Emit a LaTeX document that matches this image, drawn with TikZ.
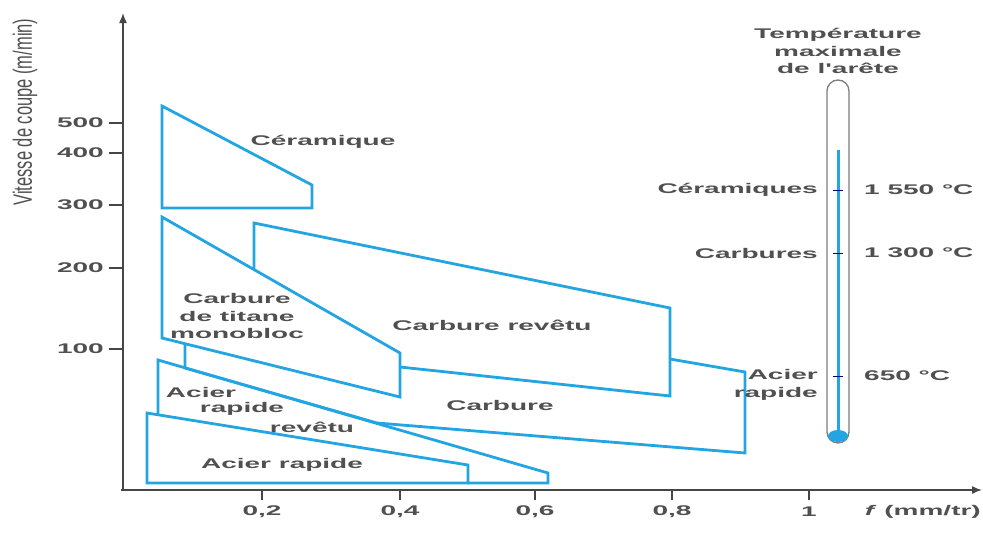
\documentclass[tikz,border=0pt]{standalone}
\usepackage{fontspec}
\usepackage{graphicx}
\usetikzlibrary{arrows.meta}
\setmainfont{Liberation Sans}
\newfontfamily\chartfont{Liberation Sans}[FakeStretch=2.0]
\definecolor{zoneblue}{RGB}{35,165,225}
\definecolor{axisgray}{RGB}{70,70,70}
\definecolor{textgray}{RGB}{80,80,80}
\definecolor{tubegray}{RGB}{125,125,125}
\tikzstyle{zone} = [draw, line width=2.8pt, color=zoneblue]
\tikzstyle{axis} = [draw, line width=1.5pt, color=axisgray]
\tikzstyle{arrow} = [draw, line width=1.5pt, color=axisgray, -{Latex[length=10pt,width=8pt]}]
\tikzstyle{zonelabel} = [text=textgray, align=center, inner sep=0pt, font=\chartfont\bfseries\fontsize{14}{17.5}\selectfont]
\tikzstyle{tube} = [draw, line width=1.3pt, color=tubegray, rounded corners=11pt]
\tikzstyle{thermotick} = [draw, line width=1pt, color=blue!45!black]
\newcommand{\zonelabel}[2]{node (z#1) [zonelabel] {#2}}

\begin{document}
\begin{tikzpicture}[x=1pt,y=-1pt]
\useasboundingbox (0,0) rectangle (983,536);
% axes
\path [arrow] (123,491) -- (123,13);
\path [arrow] (121,490) -- (982,490);
\foreach \y/\v in {123/500,153/400,205/300,268/200,349/100}{
  \path [axis] (109,\y) -- (123,\y);
  \path (104,\y) node (yt\v) [zonelabel, anchor=east] {\v};
}
\foreach \x/\v in {262/{0,2},400/{0,4},535/{0,6},672/{0,8},809/1}{
  \path [axis] (\x,490) -- (\x,500);
  \path (\x,512) node (xt\x) [zonelabel] {\v};
}
\path (25,112) node (ylabel) [rotate=90, text=textgray, font=\fontsize{16.5}{18}\selectfont] {\scalebox{1}[1.6]{Vitesse de coupe (m/min)}};
\path (981,512) node (xlabel) [zonelabel, anchor=east] {\textit{f} (mm/tr)};

% zones
\path [zone] (162,106) -- (312,185) -- (312,208) -- (162,208) -- cycle;
\path [zone] (162,217) -- (400,353) -- (400,397) -- (162,338) -- cycle;
\path [zone] (254,269) -- (254,223) -- (670,308) -- (670,396) -- (400,367);
\path [zone] (185,344) -- (185,368) -- (377,423) -- (745,453) -- (745,372) -- (670,359);
\path [zone] (158,415) -- (158,360) -- (548,473) -- (548,483) -- (468,483);
\path [zone] (147,413) -- (468,465) -- (468,483) -- (147,483) -- cycle;

\path (323,142) \zonelabel{1}{Céramique};
\path (237,316) \zonelabel{2}{Carbure\\de titane\\monobloc};
\path (492,325) \zonelabel{3}{Carbure revêtu};
\path (500,405) \zonelabel{4}{Carbure};
\path (201,392) \zonelabel{5}{Acier};
\path (242,409) \zonelabel{6}{rapide};
\path (312,427) \zonelabel{7}{revêtu};
\path (282,465) \zonelabel{8}{Acier rapide};

% thermometer
\path (838,51) node (ttitle) [zonelabel] {Température\\maximale\\de l'arête};
\path [tube] (827,80) rectangle (849,443);
\path [draw, line width=3pt, color=zoneblue] (838,150) -- (838,436);
\path [fill=zoneblue] (838,436) ellipse [x radius=10, y radius=6];
\foreach \y/\m/\t in {190/Céramiques/1 550 °C,253/Carbures/1 300 °C}{
  \path [thermotick] (833,\y) -- (843,\y);
  \path (818,\y) node (tm\y) [zonelabel, anchor=east] {\m};
  \path (864,\y) node (tv\y) [zonelabel, anchor=west] {\t};
}
\path [thermotick] (833,376) -- (843,376);
\path (818,385) node (tm376) [zonelabel, anchor=east, align=right] {Acier\\rapide};
\path (864,376) node (tv376) [zonelabel, anchor=west] {650 °C};
\end{tikzpicture}
\end{document}
